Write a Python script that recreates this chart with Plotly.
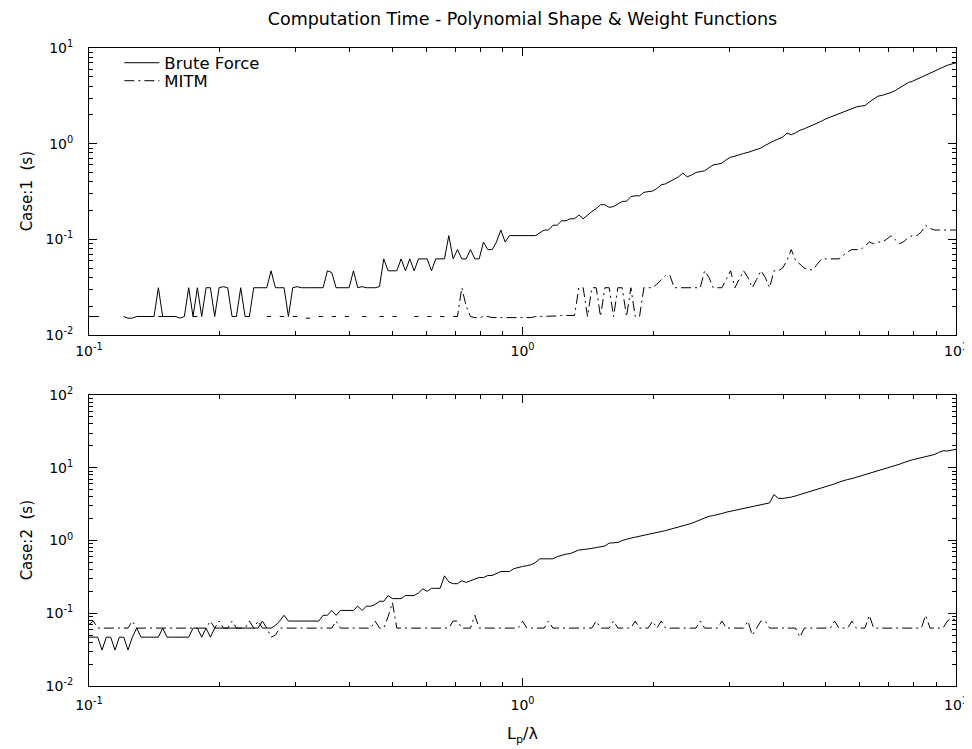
import numpy as np
import plotly.graph_objects as go

# ---------------- data ----------------
# sampling grid of L_p/lambda (201 log-spaced samples, 0.1 .. 10)
x_grid = np.logspace(-1, 1, 201)

bf_case1 = [
    None, None, None, None, None, None, None, None, 0.0156, 0.0150,
    0.0150, 0.0156, 0.0156, 0.0156, 0.0156, 0.0156, 0.0312, 0.0156, 0.0156, 0.0156,
    0.0156, 0.0150, 0.0156, 0.0312, 0.0156, 0.0312, 0.0156, 0.0312, 0.0312, 0.0156,
    0.0312, 0.0320, 0.0312, 0.0156, 0.0156, 0.0312, 0.0156, 0.0156, 0.0312, 0.0312,
    0.0312, 0.0312, 0.0469, 0.0312, 0.0312, 0.0312, 0.0156, 0.0312, 0.0320, 0.0312,
    0.0312, 0.0312, 0.0312, 0.0312, 0.0312, 0.0469, 0.0450, 0.0312, 0.0312, 0.0312,
    0.0312, 0.0469, 0.0312, 0.0320, 0.0312, 0.0312, 0.0312, 0.0320, 0.0625, 0.0469,
    0.0469, 0.0469, 0.0625, 0.0469, 0.0625, 0.0469, 0.0625, 0.0625, 0.0625, 0.0469,
    0.0625, 0.0625, 0.0625, 0.1094, 0.0625, 0.0781, 0.0625, 0.0625, 0.0781, 0.0625,
    0.0625, 0.0938, 0.0781, 0.0781, 0.0938, 0.1250, 0.0938, 0.1094, 0.1094, 0.1100,
    0.1100, 0.1094, 0.1100, 0.1094, 0.1170, 0.1250, 0.1250, 0.1400, 0.1406, 0.1560,
    0.1563, 0.1640, 0.1640, 0.1800, 0.1640, 0.1800, 0.1950, 0.2100, 0.2300, 0.2300,
    0.2160, 0.2200, 0.2350, 0.2490, 0.2500, 0.2800, 0.2850, 0.2850, 0.3100, 0.3170,
    0.3200, 0.3400, 0.3720, 0.3800, 0.4030, 0.4200, 0.4500, 0.4930, 0.4500, 0.4700,
    0.5000, 0.5100, 0.5200, 0.5600, 0.6000, 0.6100, 0.6250, 0.6800, 0.7200, 0.7400,
    0.7700, 0.7900, 0.8100, 0.8400, 0.8700, 0.9000, 0.9600, 1.0200, 1.0700, 1.1200,
    1.1700, 1.2900, 1.2400, 1.3000, 1.3800, 1.4300, 1.5000, 1.5700, 1.6200, 1.7200,
    1.8200, 1.9000, 1.9800, 2.0600, 2.1600, 2.2500, 2.3300, 2.4200, 2.4700, 2.5000,
    2.7200, 2.9500, 3.1400, 3.2000, 3.3000, 3.4200, 3.6000, 3.8400, 4.0500, 4.3500,
    4.5000, 4.7500, 4.9500, 5.2000, 5.4500, 5.7500, 6.0500, 6.3000, 6.6000, 6.8000,
    7.0000,
]

mitm_case1 = [
    0.0156, 0.0156, 0.0156, 0.0156, None, None, None, None, None, None,
    None, None, None, None, None, None, 0.0156, 0.0156, None, None,
    None, None, None, None, 0.0156, 0.0156, None, None, None, None,
    None, None, None, None, None, None, None, None, None, None,
    None, 0.0156, 0.0156, None, 0.0156, 0.0156, None, 0.0156, 0.0156, None,
    0.0150, 0.0150, None, 0.0156, 0.0156, None, 0.0156, 0.0156, None, 0.0156,
    0.0156, None, None, 0.0156, 0.0156, None, None, 0.0156, 0.0156, None,
    0.0156, 0.0156, None, None, None, 0.0156, 0.0156, None, 0.0156, 0.0156,
    None, 0.0156, 0.0156, None, 0.0156, 0.0156, 0.0312, 0.0200, 0.0156, 0.0152,
    0.0152, 0.0156, 0.0156, 0.0152, 0.0152, 0.0152, 0.0150, 0.0150, 0.0150, 0.0150,
    0.0150, 0.0150, 0.0152, 0.0156, 0.0156, 0.0156, 0.0156, 0.0158, 0.0158, 0.0160,
    0.0160, 0.0160, 0.0160, 0.0312, 0.0312, 0.0156, 0.0312, 0.0312, 0.0156, 0.0312,
    0.0312, 0.0156, 0.0312, 0.0312, 0.0156, 0.0312, 0.0156, 0.0156, 0.0312, 0.0312,
    0.0312, 0.0340, 0.0380, 0.0420, 0.0420, 0.0312, 0.0312, 0.0312, 0.0312, 0.0312,
    0.0312, 0.0312, 0.0469, 0.0400, 0.0312, 0.0312, 0.0312, 0.0380, 0.0469, 0.0312,
    0.0380, 0.0469, 0.0400, 0.0312, 0.0380, 0.0469, 0.0400, 0.0312, 0.0469, 0.0469,
    0.0500, 0.0600, 0.0781, 0.0600, 0.0550, 0.0500, 0.0480, 0.0480, 0.0550, 0.0625,
    0.0625, 0.0625, 0.0625, 0.0625, 0.0680, 0.0740, 0.0781, 0.0781, 0.0781, 0.0850,
    0.0938, 0.0900, 0.0938, 0.0938, 0.1000, 0.1094, 0.1000, 0.0900, 0.0950, 0.1050,
    0.1094, 0.1094, 0.1200, 0.1400, 0.1300, 0.1250, 0.1250, 0.1250, 0.1250, 0.1250,
    0.1250,
]

bf_case2 = [
    0.0469, 0.0469, 0.0469, 0.0312, 0.0469, 0.0469, 0.0312, 0.0469, 0.0469, 0.0312,
    0.0469, 0.0625, 0.0469, 0.0469, 0.0469, 0.0469, 0.0469, 0.0625, 0.0469, 0.0469,
    0.0469, 0.0469, 0.0469, 0.0469, 0.0625, 0.0625, 0.0469, 0.0625, 0.0469, 0.0625,
    0.0625, 0.0625, 0.0625, 0.0625, 0.0625, 0.0625, 0.0625, 0.0625, 0.0625, 0.0625,
    0.0781, 0.0625, 0.0625, 0.0680, 0.0781, 0.0938, 0.0781, 0.0781, 0.0781, 0.0781,
    0.0781, 0.0781, 0.0781, 0.0781, 0.0938, 0.0938, 0.1094, 0.0938, 0.1094, 0.1094,
    0.1094, 0.1094, 0.1250, 0.1094, 0.1250, 0.1250, 0.1320, 0.1460, 0.1460, 0.1750,
    0.1590, 0.1590, 0.1590, 0.1750, 0.1750, 0.1750, 0.1900, 0.2160, 0.2000, 0.2200,
    0.2200, 0.2200, 0.3270, 0.2700, 0.2550, 0.2550, 0.2800, 0.2650, 0.2800, 0.2950,
    0.3100, 0.3100, 0.3300, 0.3300, 0.3500, 0.3750, 0.3750, 0.3750, 0.4100, 0.4300,
    0.4400, 0.4500, 0.4650, 0.5000, 0.5600, 0.5600, 0.5600, 0.5600, 0.6000, 0.6300,
    0.6500, 0.6600, 0.7000, 0.7400, 0.7500, 0.7600, 0.7800, 0.8000, 0.8200, 0.8400,
    0.9200, 0.9300, 0.9400, 1.0000, 1.0500, 1.0800, 1.1100, 1.1400, 1.1800, 1.2000,
    1.2500, 1.2900, 1.3300, 1.3700, 1.4200, 1.4700, 1.5200, 1.5800, 1.6500, 1.7200,
    1.8200, 1.9400, 2.0500, 2.1500, 2.2000, 2.2600, 2.3500, 2.4500, 2.5200, 2.5800,
    2.6500, 2.7500, 2.8200, 2.9000, 3.0000, 3.1000, 3.2000, 3.2900, 4.2800, 3.8000,
    3.7800, 3.8200, 3.9500, 4.1000, 4.2800, 4.4000, 4.6000, 4.8000, 5.0000, 5.2000,
    5.4200, 5.7000, 6.0000, 6.3500, 6.7000, 6.9000, 7.1000, 7.4000, 7.7000, 8.0000,
    8.2600, 8.6000, 9.0000, 9.4000, 9.8000, 10.200, 10.700, 11.200, 11.800, 12.400,
    12.900, 13.300, 13.700, 14.200, 14.700, 15.200, 16.200, 17.100, 17.000, 17.400,
    17.900,
]

mitm_case2 = [
    0.0700, 0.0781, 0.0625, 0.0625, 0.0625, 0.0625, 0.0625, 0.0625, 0.0625, 0.0625,
    0.0781, 0.0625, 0.0625, 0.0625, 0.0625, 0.0625, 0.0625, 0.0625, 0.0625, 0.0625,
    0.0625, 0.0625, 0.0625, 0.0625, 0.0625, 0.0625, 0.0625, 0.0625, 0.0781, 0.0625,
    0.0781, 0.0625, 0.0625, 0.0781, 0.0625, 0.0625, 0.0625, 0.0781, 0.0625, 0.0781,
    0.0625, 0.0625, 0.0469, 0.0500, 0.0625, 0.0625, 0.0625, 0.0625, 0.0625, 0.0625,
    0.0625, 0.0625, 0.0625, 0.0625, 0.0625, 0.0625, 0.0625, 0.0781, 0.0625, 0.0625,
    0.0625, 0.0625, 0.0625, 0.0625, 0.0625, 0.0625, 0.0781, 0.0625, 0.0625, 0.0900,
    0.1400, 0.0625, 0.0625, 0.0625, 0.0625, 0.0625, 0.0625, 0.0625, 0.0625, 0.0625,
    0.0625, 0.0625, 0.0625, 0.0625, 0.0781, 0.0781, 0.0625, 0.0625, 0.0625, 0.0938,
    0.0625, 0.0625, 0.0625, 0.0625, 0.0625, 0.0625, 0.0625, 0.0625, 0.0625, 0.0625,
    0.0781, 0.0625, 0.0625, 0.0625, 0.0625, 0.0625, 0.0781, 0.0625, 0.0625, 0.0625,
    0.0625, 0.0625, 0.0625, 0.0625, 0.0625, 0.0625, 0.0625, 0.0781, 0.0625, 0.0625,
    0.0625, 0.0781, 0.0625, 0.0625, 0.0625, 0.0625, 0.0781, 0.0625, 0.0625, 0.0625,
    0.0781, 0.0625, 0.0781, 0.0625, 0.0625, 0.0625, 0.0625, 0.0625, 0.0625, 0.0625,
    0.0625, 0.0781, 0.0625, 0.0625, 0.0625, 0.0625, 0.0781, 0.0625, 0.0625, 0.0625,
    0.0625, 0.0625, 0.0781, 0.0500, 0.0625, 0.0781, 0.0781, 0.0625, 0.0625, 0.0625,
    0.0625, 0.0625, 0.0625, 0.0625, 0.0469, 0.0625, 0.0625, 0.0625, 0.0625, 0.0625,
    0.0625, 0.0625, 0.0781, 0.0625, 0.0625, 0.0625, 0.0781, 0.0625, 0.0625, 0.0625,
    0.0938, 0.0625, 0.0625, 0.0625, 0.0625, 0.0625, 0.0625, 0.0625, 0.0625, 0.0625,
    0.0625, 0.0625, 0.0625, 0.0938, 0.0625, 0.0625, 0.0625, 0.0625, 0.0781, 0.0850,
    0.0800,
]

x_tickvals = [0.1, 1, 10]
x_ticktext = ["10<sup>-1</sup>", "10<sup>0</sup>", "10<sup>1</sup>"]
y1_tickvals = [0.01, 0.1, 1, 10]
y1_ticktext = ["10<sup>-2</sup>", "10<sup>-1</sup>", "10<sup>0</sup>", "10<sup>1</sup>"]
y2_tickvals = [0.01, 0.1, 1, 10, 100]
y2_ticktext = ["10<sup>-2</sup>", "10<sup>-1</sup>", "10<sup>0</sup>", "10<sup>1</sup>", "10<sup>2</sup>"]
minor_x = [0.2, 0.3, 0.4, 0.5, 0.6, 0.7, 0.8, 0.9, 2, 3, 4, 5, 6, 7, 8, 9]
minor_y1 = [0.02, 0.03, 0.04, 0.05, 0.06, 0.07, 0.08, 0.09] + minor_x
minor_y2 = minor_y1 + [20, 30, 40, 50, 60, 70, 80, 90]

# ---------------- figure ----------------
FONT = "DejaVu Sans, Liberation Sans, Arial, sans-serif"
DASHDOT = "10px,4px,2px,4px"
H = 749
T_MARGIN, B_MARGIN = 40, 71
PLOT_H = H - T_MARGIN - B_MARGIN


def paper_y(py):
    """convert a pixel row of the page to a paper coordinate"""
    return (H - B_MARGIN - py) / PLOT_H


fig = go.Figure()
fig.add_trace(go.Scatter(x=x_grid, y=bf_case1, mode="lines", name="Brute Force",
                         line=dict(color="black", width=1), xaxis="x", yaxis="y",
                         legend="legend"))
fig.add_trace(go.Scatter(x=x_grid, y=mitm_case1, mode="lines", name="MITM",
                         line=dict(color="black", width=1, dash=DASHDOT), xaxis="x", yaxis="y",
                         legend="legend2"))
fig.add_trace(go.Scatter(x=x_grid, y=bf_case2, mode="lines", name="Brute Force", showlegend=False,
                         line=dict(color="black", width=1), xaxis="x2", yaxis="y2"))
fig.add_trace(go.Scatter(x=x_grid, y=mitm_case2, mode="lines", name="MITM", showlegend=False,
                         line=dict(color="black", width=1, dash=DASHDOT), xaxis="x2", yaxis="y2"))


def axis_style(tickvals, ticktext, minor_vals, rng):
    return dict(
        type="log", range=rng, showline=True, linecolor="black", linewidth=1,
        mirror="allticks", ticks="inside", ticklen=8, tickwidth=1, tickcolor="black",
        showgrid=False, zeroline=False, tickvals=tickvals, ticktext=ticktext,
        ticklabeloverflow="allow",
        tickfont=dict(family=FONT, size=14, color="black"),
        minor=dict(ticks="inside", ticklen=4, tickwidth=1, tickcolor="black",
                   tickvals=minor_vals, showgrid=False),
    )


TOP_DOMAIN = [paper_y(327), 1.0]
BOT_DOMAIN = [0.0, paper_y(387)]

legend_common = dict(x=0.035, xanchor="left", yanchor="middle", xref="paper", yref="paper",
                     bgcolor="rgba(0,0,0,0)", borderwidth=0, itemwidth=35,
                     font=dict(family=FONT, size=16.5, color="black"))

fig.update_layout(
    width=972, height=H,
    paper_bgcolor="white", plot_bgcolor="white",
    margin=dict(l=81, r=12, t=T_MARGIN, b=B_MARGIN),
    font=dict(family=FONT, size=15, color="black"),
    title=dict(text="Computation Time - Polynomial Shape & Weight Functions",
               x=0.5, xref="paper", y=1 - 11 / H, yref="container", yanchor="middle",
               font=dict(family=FONT, size=17.5, color="black")),
    xaxis=dict(domain=[0, 1], anchor="y", ticklabelstandoff=3,
               **axis_style(x_tickvals, x_ticktext, minor_x, [-1, 1])),
    yaxis=dict(domain=TOP_DOMAIN, anchor="x", ticklabelstandoff=12,
               **axis_style(y1_tickvals, y1_ticktext, minor_y1, [-2, 1])),
    xaxis2=dict(domain=[0, 1], anchor="y2", ticklabelstandoff=6,
                title=dict(text="L<sub>p</sub>/\u03bb", font=dict(family=FONT, size=16), standoff=16),
                **axis_style(x_tickvals, x_ticktext, minor_x, [-1, 1])),
    yaxis2=dict(domain=BOT_DOMAIN, anchor="x2", ticklabelstandoff=12,
                **axis_style(y2_tickvals, y2_ticktext, minor_y2, [-2, 2])),
    showlegend=True,
    legend=dict(y=paper_y(55), **legend_common),
    legend2=dict(y=paper_y(73), **legend_common),
    annotations=[
        dict(text="Case:1 \u00a0(s)", xref="paper", yref="paper", x=(18 - 81) / 879,
             y=sum(TOP_DOMAIN) / 2, textangle=-90, showarrow=False,
             xanchor="center", yanchor="middle", font=dict(family=FONT, size=15, color="black")),
        dict(text="Case:2 \u00a0(s)", xref="paper", yref="paper", x=(18 - 81) / 879,
             y=sum(BOT_DOMAIN) / 2, textangle=-90, showarrow=False,
             xanchor="center", yanchor="middle", font=dict(family=FONT, size=15, color="black")),
    ],
)

fig.write_html("out.html")
